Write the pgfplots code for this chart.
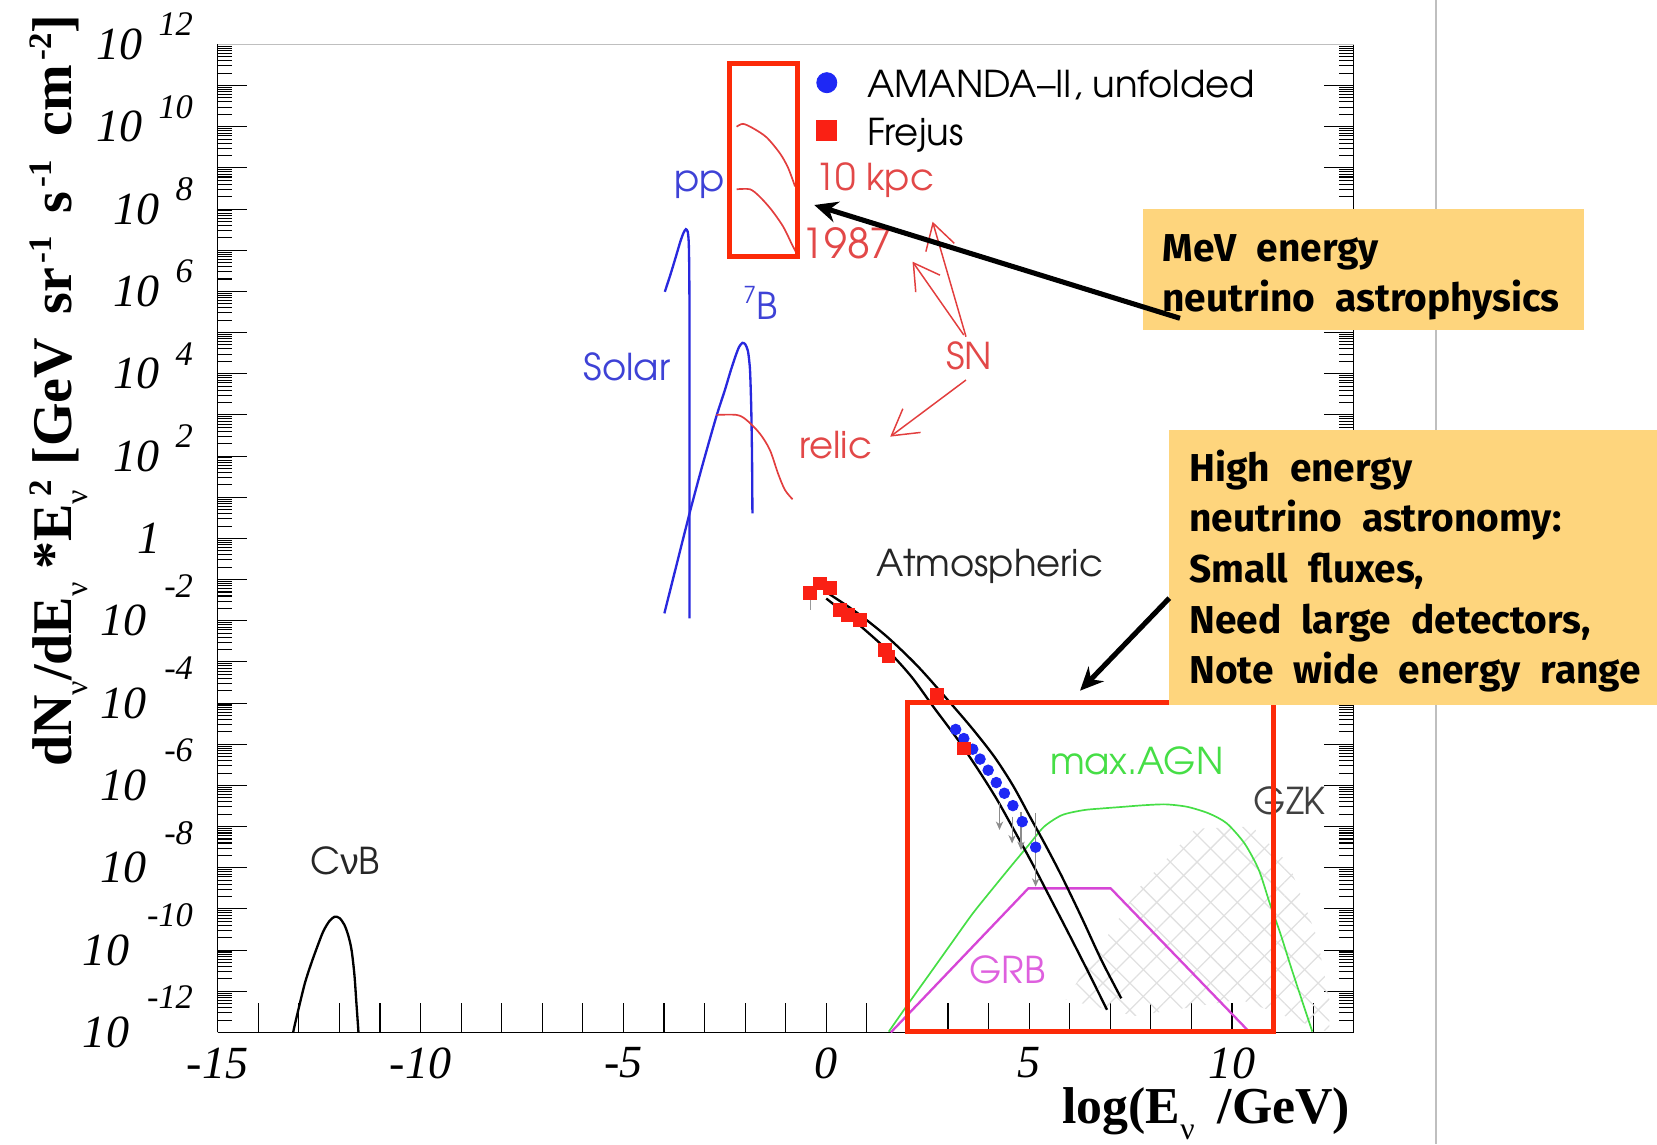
\documentclass[border=0pt]{standalone}
\usepackage{fontspec}
\setmainfont{Liberation Serif}
\newfontfamily\libsans{Liberation Sans}
\newfontfamily\notefont{Fira Sans}
\newfontfamily\avantfam{texgyreadventor}[Extension=.otf, UprightFont=*-regular, BoldFont=*-bold, ItalicFont=*-italic, BoldItalicFont=*-bolditalic]
\usepackage{pgfplots}
\pgfplotsset{compat=1.18}
\usetikzlibrary{arrows.meta,patterns.meta}

\definecolor{cblue}{RGB}{40,40,222}
\definecolor{lblue}{RGB}{62,66,214}
\definecolor{cred}{RGB}{226,62,62}
\definecolor{lred}{RGB}{226,72,72}
\definecolor{cgreen}{RGB}{70,222,70}
\definecolor{cmag}{RGB}{214,70,214}
\definecolor{lmag}{RGB}{222,96,222}
\definecolor{boxred}{RGB}{252,42,8}
\definecolor{notefill}{RGB}{254,213,125}
\definecolor{amablue}{RGB}{30,40,245}
\definecolor{frejred}{RGB}{250,32,20}

% fonts
\newcommand\lbl{\avantfam\fontsize{17.5}{20}\selectfont}
\newcommand\note{\notefont\bfseries\fontsize{18.4}{21}\selectfont}
\newcommand\gap{\hspace{9.5pt}}
\newcommand\tkbase{\fontsize{21.8}{24}\selectfont\itshape}
\newcommand\tkexp{\fontsize{16.3}{18}\selectfont\itshape}
\newcommand\plab[1]{{\tkbase 10}\hspace{7.5pt}\smash{\raisebox{11.2pt}{\tkexp #1}}}
\newcommand\nlab[1]{{\tkbase 10}\hspace{8.5pt}\smash{\raisebox{18.3pt}{\tkexp #1}}}
\newcommand\onelab{{\tkbase 1}\hbox to 15.5pt{}}
\newcommand\tsub[1]{\raisebox{-7.5pt}{\fontsize{15}{15}\selectfont\mdseries #1}}
\newcommand\tsup[1]{\raisebox{9.5pt}{\fontsize{15.5}{15.5}\selectfont #1}}

% minor ticks of the logarithmic flux scale (axis holds log10 values)
\def\minorticks{}
\foreach \k in {-12,...,11}{%
  \foreach \f in {0.30103,0.47712,0.60206,0.69897,0.77815,0.84510,0.90309,0.95424}{%
    \pgfmathsetmacro\v{\k+\f}%
    \ifx\minorticks\empty\xdef\minorticks{\v}\else\xdef\minorticks{\minorticks,\v}\fi}}

% pixel-like frame for annotations: origin at the top-left corner of the page
\tikzset{px/.style={x=0.5pt,y=-0.5pt,shift={(-103pt,488.5pt)}}}

\begin{document}
\begin{tikzpicture}
\begin{scope}[px]
  \path[use as bounding box] (0,0) rectangle (1568,1083);
  \draw[black!25, line width=1pt] (1359,0) -- (1359,1083);
\end{scope}

\begin{axis}[
  at={(0,0)}, anchor=south west,
  scale only axis, width=537.5pt, height=467.5pt,
  xmin=-15, xmax=13, ymin=-12, ymax=12,
  axis x line*=bottom, axis y line*=box,
  tick align=inside,
  major tick length=14pt, minor tick length=7pt,
  every tick/.style={black, line width=0.5pt},
  axis line style={black, line width=0.6pt},
  xtick={-15,-14,...,13},
  xticklabels={{-15},{},{},{},{},{-10},{},{},{},{},{-5},{},{},{},{},{0},{},{},{},{},{5},{},{},{},{},{10},{},{},{}},
  xticklabel style={font=\tkbase, anchor=north, inner sep=0pt, yshift=-7pt},
  ytick={-12,-11,...,12},
  yticklabels={{\nlab{-12}},{},{\nlab{-10}},{},{\nlab{-8}},{},{\nlab{-6}},{},{\nlab{-4}},{},{\nlab{-2}},{},{\onelab},{},{\plab{2}},{},{\plab{4}},{},{\plab{6}},{},{\plab{8}},{},{\plab{10}},{},{\plab{12}}},
  yticklabel style={anchor=east, inner sep=0pt, xshift=-11.5pt},
  minor ytick/.expanded={\minorticks},
  legend style={draw=none, fill=none, at={(axis description cs:0.52698,0.9744)}, anchor=north west,
    inner sep=0pt, outer sep=0pt, row sep=5.8pt, column sep=14.25pt, font=\lbl,
    nodes={inner sep=0pt, text height=13pt, text depth=4pt}},
  legend cell align=left,
]

% GZK band (cross-hatched)
\addplot[draw=none, pattern={Lines[angle=45,distance=9pt,line width=0.6pt]}, pattern color=black!12, forget plot]
  coordinates {(5.9,-11.2) (7.7,-8.5) (9.1,-7.05) (10.5,-7.0) (11.4,-7.9) (12.1,-9.7) (12.4,-11.2) (12.4,-12) (10.2,-11.2) (7.6,-11.6)} -- cycle;
\addplot[draw=none, pattern={Lines[angle=-45,distance=9pt,line width=0.6pt]}, pattern color=black!12, forget plot]
  coordinates {(5.9,-11.2) (7.7,-8.5) (9.1,-7.05) (10.5,-7.0) (11.4,-7.9) (12.1,-9.7) (12.4,-11.2) (12.4,-12) (10.2,-11.2) (7.6,-11.6)} -- cycle;

% cosmic neutrino background
\addplot[black, line width=1.1pt, smooth, tension=0.5, forget plot] coordinates {
  (-13.22,-12.5) (-13.14,-12.0) (-13.0,-11.4) (-12.85,-10.8) (-12.7,-10.34) (-12.55,-9.93)
  (-12.4,-9.55) (-12.25,-9.3) (-12.12,-9.19) (-12.0,-9.22) (-11.88,-9.38) (-11.78,-9.65)
  (-11.7,-10.0) (-11.63,-10.6) (-11.58,-11.3) (-11.53,-12.0) (-11.5,-12.5)};

% solar pp
\addplot[cblue, line width=1.1pt, smooth, tension=0.4, forget plot] coordinates {
  (-3.98,5.99) (-3.85,6.38) (-3.72,6.8) (-3.6,7.2) (-3.52,7.42) (-3.46,7.51) (-3.415,7.45)
  (-3.39,7.2) (-3.378,6.6) (-3.372,5.5) (-3.37,2.0) (-3.37,-1.94)};
% solar 7B
\addplot[cblue, line width=1.1pt, smooth, tension=0.4, forget plot] coordinates {
  (-3.99,-1.82) (-3.38,0.57) (-3.04,1.82) (-2.71,2.96) (-2.5,3.6) (-2.36,4.06) (-2.24,4.42)
  (-2.15,4.65) (-2.07,4.75) (-2.0,4.72) (-1.93,4.55) (-1.88,4.1) (-1.85,3.2) (-1.83,2.0) (-1.82,0.61)};
% relic supernova neutrinos
\addplot[cred, line width=0.8pt, smooth, tension=0.5, forget plot] coordinates {
  (-2.71,3.0) (-2.21,3.0) (-1.97,2.88) (-1.64,2.55) (-1.39,2.15) (-1.19,1.58) (-1.02,1.18) (-0.83,0.95)};
% SN at 10 kpc
\addplot[cred, line width=0.8pt, smooth, tension=0.5, forget plot] coordinates {
  (-2.21,10.0) (-2.05,10.07) (-1.80,9.96) (-1.47,9.74) (-1.14,9.35) (-0.94,9.0) (-0.77,8.55)};
% SN 1987A
\addplot[cred, line width=0.8pt, smooth, tension=0.5, forget plot] coordinates {
  (-2.21,8.48) (-1.88,8.48) (-1.64,8.30) (-1.35,7.98) (-1.06,7.57) (-0.86,7.17) (-0.73,6.92)};

% max. AGN
\addplot[cgreen, line width=0.8pt, smooth, tension=0.45, forget plot] coordinates {
  (1.54,-11.98) (2.03,-11.29) (2.56,-10.56) (3.08,-9.84) (3.61,-9.11) (4.14,-8.46) (4.58,-7.93)
  (5.02,-7.41) (5.37,-7.0) (5.81,-6.72) (6.34,-6.60) (6.78,-6.56) (7.31,-6.52) (7.84,-6.48)
  (8.37,-6.46) (8.90,-6.52) (9.43,-6.68) (9.87,-6.92) (10.31,-7.41) (10.66,-8.05) (10.93,-8.86)
  (11.19,-9.59) (11.45,-10.40) (11.72,-11.21) (11.98,-11.98)};
% GRB
\addplot[cmag, line width=1.1pt, forget plot] coordinates {
  (1.59,-12.0) (4.98,-8.50) (7.01,-8.50) (10.44,-12.0)};

% atmospheric flux band
\addplot[black, line width=1.1pt, smooth, forget plot] coordinates {
  (0.04,-1.33) (0.75,-1.8) (1.5,-2.39) (2.25,-3.1) (3.0,-3.93) (3.6,-4.62) (4.14,-5.30)
  (4.6,-6.0) (5.02,-6.76) (5.42,-7.48) (5.81,-8.22) (6.3,-9.22) (6.78,-10.24) (7.27,-11.17)};
\addplot[black, line width=1.1pt, smooth, forget plot] coordinates {
  (0.0,-1.46) (0.75,-2.05) (1.5,-2.71) (2.1,-3.36) (2.64,-4.09) (3.2,-4.83) (3.70,-5.55)
  (4.2,-6.33) (4.67,-7.16) (5.08,-7.9) (5.46,-8.62) (5.95,-9.55) (6.43,-10.48) (6.92,-11.45)};

% upper limits
\addplot[black!45, line width=0.5pt, -{Stealth[length=4pt,width=3.5pt]}, forget plot] coordinates {(4.27,-6.43) (4.27,-7.08)};
\addplot[black!45, line width=0.5pt, -{Stealth[length=4pt,width=3.5pt]}, forget plot] coordinates {(4.58,-6.76) (4.58,-7.41)};
\addplot[black!45, line width=0.5pt, -{Stealth[length=4pt,width=3.5pt]}, forget plot] coordinates {(4.80,-6.64) (4.80,-7.57)};
\addplot[black!45, line width=0.5pt, -{Stealth[length=4pt,width=3.5pt]}, forget plot] coordinates {(5.16,-6.68) (5.16,-8.46)};

% AMANDA-II unfolded spectrum
\addplot[only marks, mark=*, mark size=2.5pt, color=amablue,
  legend image code/.code={\fill[amablue] (0pt,2.35pt) circle[radius=4.75pt];}] coordinates {
  (3.19,-4.64) (3.39,-4.86) (3.61,-5.12) (3.79,-5.36) (3.99,-5.63) (4.19,-5.93)
  (4.39,-6.19) (4.60,-6.49) (4.83,-6.88) (5.16,-7.50)};
\addlegendentry{AMANDA–II, unfolded}

% Frejus
\addplot[only marks, mark=square*, mark size=3pt, color=frejred,
  error bars/.cd, y dir=minus, y explicit, error mark=none,
  error bar style={black!40, line width=0.5pt}] 
  [legend image code/.code={\fill[frejred] (-4.75pt,-2.4pt) rectangle (4.75pt,7.1pt);}]
  coordinates {
  (-0.40,-1.33) -= (0,0.42)
  (-0.16,-1.09) -= (0,0)
  (0.09,-1.21) -= (0,0)
  (0.34,-1.74) -= (0,0)
  (0.54,-1.86) -= (0,0)
  (0.83,-1.98) -= (0,0)
  (1.45,-2.71) -= (0,0)
  (1.53,-2.87) -= (0,0)
  (2.72,-3.80) -= (0,0)
  (3.39,-5.10) -= (0,0)};
\addlegendentry{Frejus}
\end{axis}

\begin{scope}[px]
  % frame top
  \draw[black!25, line width=0.8pt] (206,42) -- (1281,42);
  % axis titles
  \node[anchor=base east, inner sep=0pt] at (1278,1063)
    {\fontsize{24.5}{26}\selectfont\bfseries log(E\tsub{ν}\hspace{11pt}/GeV)};
  \node[anchor=base west, inner sep=0pt, rotate=90] at (68,726)
    {\fontsize{26.5}{28}\selectfont\bfseries dN\tsub{ν}/dE\tsub{ν}\hspace{6pt}*E\tsub{ν}\hspace{-3pt}\tsup{2}\hspace{7pt}[GeV\hspace{11pt}sr\hspace{2pt}\tsup{-1}\hspace{11pt}s\hspace{2pt}\tsup{-1}\hspace{11pt}cm\hspace{2pt}\tsup{-2}]};
  % curve labels
  \node[anchor=base west, inner sep=0pt, text=lblue] at (637.5,181) {\lbl pp};
  \node[anchor=base west, inner sep=0pt, text=lblue] at (703,302.8) {\lbl\raisebox{8pt}{\fontsize{11}{12}\selectfont 7}B};
  \node[anchor=base west, inner sep=0pt, text=lblue] at (552,359.6) {\lbl Solar};
  \node[anchor=base west, inner sep=0pt, text=lred] at (771,179.8) {\lbl 10 kpc};
  \node[anchor=base west, inner sep=0pt, text=lred] at (758,244.5) {\avantfam\fontsize{19.5}{22}\selectfont 1987};
  \node[anchor=base west, inner sep=0pt, text=lred] at (895,350) {\lbl SN};
  \node[anchor=base west, inner sep=0pt, text=lred] at (756,433.7) {\lbl relic};
  \node[anchor=base west, inner sep=0pt, text=black!85] at (829.3,545.7) {\lbl Atmospheric};
  \node[anchor=base west, inner sep=0pt, text=cgreen] at (993.2,733.3) {\lbl max.AGN};
  \node[anchor=base west, inner sep=0pt, text=black!75] at (1186,771.2) {\lbl GZK};
  \node[anchor=base west, inner sep=0pt, text=lmag] at (917.2,930.5) {\lbl GRB};
  \node[anchor=base west, inner sep=0pt, text=black!85] at (293.3,827.6) {\lbl C{\libsans ν}B};
  % SN pointers
  \draw[cred, line width=0.7pt, -{Straight Barb[length=12pt,width=14pt]}] (914.1,318.6) -- (882.5,209.8);
  \draw[cred, line width=0.7pt, -{Straight Barb[length=12pt,width=14pt]}] (912,317) -- (863.5,247.6);
  \draw[cred, line width=0.7pt, -{Straight Barb[length=12pt,width=14pt]}] (914.1,359.6) -- (842.4,413.2);
  % highlighted regions
  \draw[boxred, line width=2.4pt] (690,60) rectangle (755,243);
  \draw[boxred, line width=2.4pt] (859,665) rectangle (1205,976);
  % notes
  \fill[notefill] (1081.2,197.8) rectangle (1498.7,312.3);
  \fill[notefill] (1105.8,406.9) rectangle (1568,667.1);
  \node[anchor=base west, inner sep=0pt] at (1099.6,247.6) {\note MeV\gap energy};
  \node[anchor=base west, inner sep=0pt] at (1099.6,294.9) {\note neutrino\gap astrophysics};
  \node[anchor=base west, inner sep=0pt] at (1125,456) {\note High\gap energy};
  \node[anchor=base west, inner sep=0pt] at (1125,503) {\note neutrino\gap astronomy:};
  \node[anchor=base west, inner sep=0pt] at (1125,551) {\note Small\gap fluxes,};
  \node[anchor=base west, inner sep=0pt] at (1125,599) {\note Need\gap large\gap detectors,};
  \node[anchor=base west, inner sep=0pt] at (1125,647) {\note Note\gap wide\gap energy\gap range};
  \draw[line width=2.4pt, -{Stealth[length=11pt,width=10pt]}] (1116.6,301.2) -- (770.5,194);
  \draw[line width=2.4pt, -{Stealth[length=11pt,width=10pt]}] (1106.5,566) -- (1022,653.6);
\end{scope}
\end{tikzpicture}
\end{document}
